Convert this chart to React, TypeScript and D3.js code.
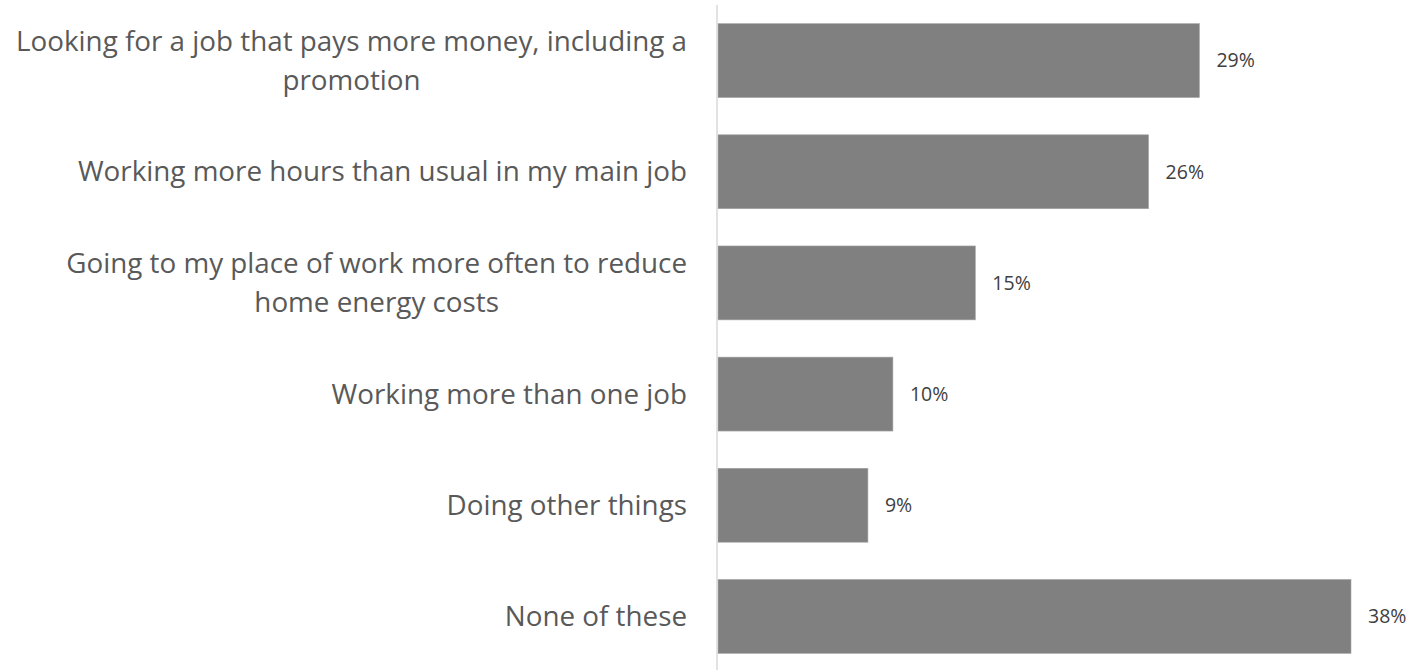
import React, { useEffect, useRef } from "react";
import * as d3 from "d3";

const categories: string[][] = [
  ["Looking for a job that pays more money, including a", "promotion"],
  ["Working more hours than usual in my main job"],
  ["Going to my place of work more often to reduce", "home energy costs"],
  ["Working more than one job"],
  ["Doing other things"],
  ["None of these"],
];
const values: number[] = [28.9, 25.85, 15.45, 10.5, 9.0, 38.0];
const valueLabels: string[] = ["29%", "26%", "15%", "10%", "9%", "38%"];

const W = 1411;
const H = 670;
const LABEL_RIGHT = 687;

export default function App() {
  const ref = useRef<SVGSVGElement>(null);
  const x0 = 718;
  const x = d3.scaleLinear().domain([0, 38]).range([x0, 1351]);
  const idx = categories.map((_, i) => String(i));
  const y = d3.scaleBand().domain(idx).range([5, 672]).paddingInner(0.335).paddingOuter(0.1675);
  const lineH = 38.5;

  useEffect(() => {
    if (!ref.current) return;
    d3.select(ref.current)
      .selectAll<SVGTextElement, unknown>("text.cat")
      .each(function () {
        const spans = Array.from(this.querySelectorAll("tspan")) as SVGTSpanElement[];
        const maxW = d3.max(spans, (s) => s.getComputedTextLength()) || 0;
        const cx = LABEL_RIGHT - maxW / 2;
        d3.select(this).attr("text-anchor", "middle");
        spans.forEach((s) => s.setAttribute("x", String(cx)));
      });
  }, []);

  return (
    <svg ref={ref} width={W} height={H} style={{ position: "absolute", left: 0, top: 0, background: "#fff" }}>
      {values.map((v, i) => {
        const yy = y(String(i))!;
        const bw = y.bandwidth();
        const cy = yy + bw / 2;
        const lines = categories[i];
        return (
          <g key={i}>
            <rect x={x0} y={yy} width={x(v) - x0} height={bw} fill="#808080" stroke="#a6a6a6" strokeWidth={0.6} />
            <text x={x(v) + 17} y={cy} dy="0.35em" fontFamily="'Open Sans', sans-serif" fontSize={19.5} fill="#404040">
              {valueLabels[i]}
            </text>
            <text
              className="cat"
              textAnchor="end"
              fontFamily="'Open Sans', sans-serif"
              fontSize={27.8}
              fill="#595959"
            >
              {lines.map((ln, j) => (
                <tspan
                  key={j}
                  x={LABEL_RIGHT}
                  y={cy + (j - (lines.length - 1) / 2) * lineH}
                  dy="0.35em"
                >
                  {ln}
                </tspan>
              ))}
            </text>
          </g>
        );
      })}
      <line x1={717} x2={717} y1={5} y2={670} stroke="#d9d9d9" strokeWidth={1.5} />
    </svg>
  );
}
